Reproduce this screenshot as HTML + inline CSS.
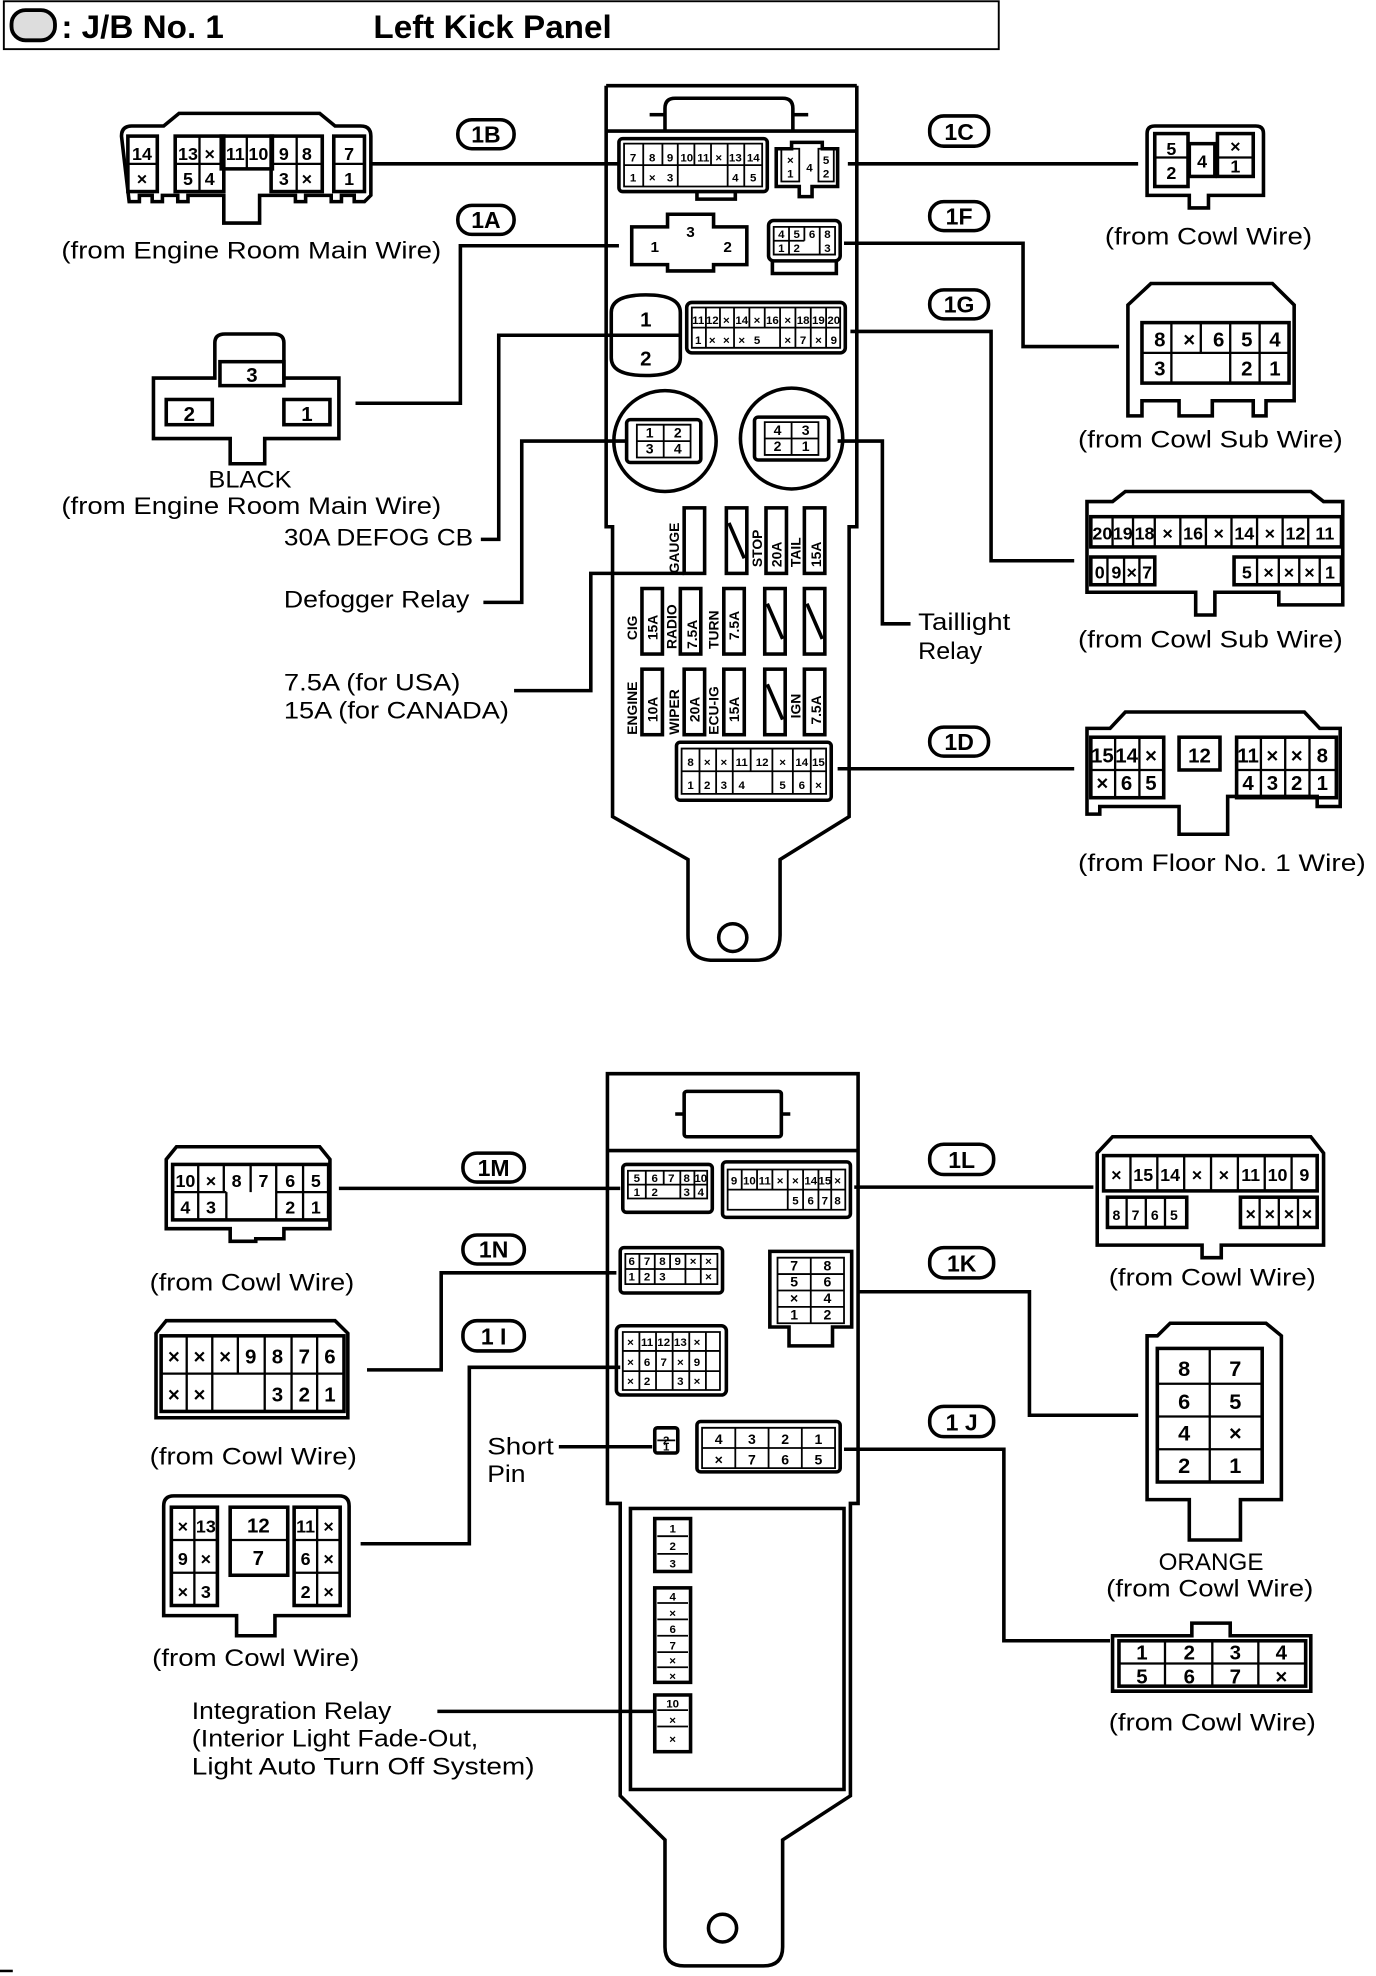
<!DOCTYPE html>
<html><head><meta charset="utf-8"><style>
html,body{margin:0;padding:0;background:#fff;}
svg{display:block;}
text{font-family:"Liberation Sans",sans-serif;fill:#000;}
.l{font-size:19px;}
.c{font-size:13px;font-weight:bold;text-anchor:middle;}
.s{font-size:9px;font-weight:bold;text-anchor:middle;}
.b{font-size:18px;font-weight:bold;text-anchor:middle;}
.f{font-size:11px;font-weight:bold;}
</style></head><body>
<svg width="1376" height="1976" viewBox="0 0 1076 1568" preserveAspectRatio="none" xmlns="http://www.w3.org/2000/svg">
<g fill="none" stroke="#000" stroke-width="2.8">
<!-- title -->
<rect x="3" y="1" width="778" height="38" stroke-width="1.5"/>
<rect x="9" y="8" width="34" height="24" rx="11" stroke-width="3" fill="#ddd"/>

<!-- ========== TOP JB ========== -->
<path d="M474,68 V418 H479 V648 L538,682 V742 Q538,762 558,762 H590 Q610,762 610,742 V682 L664,648 V418 H670 V68"/>
<line x1="474" y1="68" x2="670" y2="68"/>
<line x1="474" y1="104" x2="670" y2="104"/>
<path d="M520,104 V86 Q520,78 528,78 H612 Q620,78 620,86 V104"/>
<line x1="508" y1="91" x2="520" y2="91"/><line x1="620" y1="91" x2="632" y2="91"/>
<circle cx="573" cy="744" r="11"/>
<rect x="484" y="110" width="116" height="42" rx="3"/>
<path d="M545,152 v6 h30 v-6"/>
<path d="M607,118 h12 v-5 h24 v5 h12 v30 h-20 v8 h-10 v-8 h-18 z"/>
<path d="M494,180 h28 v-10 h36 v10 h26 v30 h-26 v5 h-36 v-5 h-28 z"/>
<rect x="601" y="175" width="56" height="32" rx="4"/>
<path d="M604,207 v10 h50 v-10"/>
<path d="M478,248 Q478,234 505,234 Q532,234 532,248 V284 Q532,298 505,298 Q478,298 478,284 Z"/>
<line x1="478" y1="266" x2="532" y2="266"/>
<rect x="537" y="240" width="124" height="40" rx="4"/>
<circle cx="520" cy="350" r="40"/><circle cx="619" cy="348" r="40"/>
<rect x="490" y="333" width="58" height="34" rx="3"/>
<rect x="590" y="331" width="58" height="34" rx="3"/>
<rect x="535" y="403" width="16" height="52"/>
<rect x="568" y="403" width="16" height="52"/><line x1="570" y1="415" x2="582" y2="443"/>
<rect x="599" y="403" width="16" height="52"/>
<rect x="629" y="403" width="16" height="52"/>
<rect x="502" y="467" width="16" height="52"/>
<rect x="532" y="467" width="16" height="52"/>
<rect x="566" y="467" width="16" height="52"/>
<rect x="598" y="467" width="16" height="52"/><line x1="600" y1="479" x2="612" y2="507"/>
<rect x="629" y="467" width="16" height="52"/><line x1="631" y1="479" x2="643" y2="507"/>
<rect x="502" y="531" width="16" height="52"/>
<rect x="535" y="531" width="16" height="52"/>
<rect x="566" y="531" width="16" height="52"/>
<rect x="598" y="531" width="16" height="52"/><line x1="600" y1="543" x2="612" y2="571"/>
<rect x="629" y="531" width="16" height="52"/>
<rect x="529" y="589" width="121" height="46" rx="3"/>

<!-- 1B big -->
<path d="M95,108 Q95,100 103,100 H128 L140,90 H250 L262,100 H282 Q290,100 290,108 V155 l-5,5 h-8 v-5 h-10 v5 h-8 v-5 h-20 v5 h-8 v-5 h-28 v22 h-28 v-22 h-28 v5 h-8 v-5 h-12 v5 h-8 v-5 h-10 v5 h-8 z"/>
<rect x="100" y="108" width="23" height="44"/>
<rect x="137" y="108" width="38" height="44"/>
<rect x="173" y="108" width="40" height="26"/>
<rect x="212" y="108" width="40" height="44"/>
<rect x="261" y="108" width="24" height="44"/>
<!-- 1A big -->
<path d="M168,280 V272 Q168,265 176,265 H214 Q222,265 222,272 V300 H265 V348 H207 V368 H180 V348 H120 V300 H168 Z"/>
<rect x="172" y="287" width="50" height="19"/>
<rect x="130" y="317" width="36" height="20"/>
<rect x="222" y="317" width="36" height="20"/>
<line x1="290" y1="130" x2="484" y2="130"/>
<polyline points="484,195 360,195 360,320 278,320"/>
<polyline points="478,266 390,266 390,428 376,428"/>
<polyline points="490,350 408,350 408,478 378,478"/>
<polyline points="535,455 462,455 462,548 402,548"/>
<line x1="663" y1="130" x2="890" y2="130"/>
<polyline points="660,193 800,193 800,275 875,275"/>
<polyline points="665,263 775,263 775,445 840,445"/>
<polyline points="655,350 690,350 690,495 712,495"/>
<line x1="655" y1="610" x2="840" y2="610"/>

<path d="M897,106 Q897,100 903,100 H982 Q988,100 988,106 V155 H945 V165 H930 V155 H897 Z"/>
<rect x="903" y="106" width="26" height="42"/>
<rect x="930" y="114" width="20" height="26"/>
<rect x="952" y="106" width="28" height="34"/>
<path d="M900,225 H995 L1012,242 V318 H990 V330 H980 V318 H948 V330 H922 V318 H893 V330 H882 V242 Z"/>
<rect x="893" y="256" width="115" height="48"/>
<path d="M870,398 L880,390 H1025 L1035,398 H1050 V480 H1000 V470 H950 V488 H935 V470 H850 V398 Z"/>
<rect x="853" y="410" width="196" height="24"/>
<rect x="853" y="442" width="50" height="22"/>
<rect x="965" y="442" width="84" height="22"/>
<path d="M868,578 L880,565 H1020 L1032,578 H1048 V640 H1030 V632 H960 V662 H922 V640 H860 V646 H850 V578 Z"/>
<rect x="853" y="585" width="57" height="48"/>
<rect x="922" y="585" width="32" height="26"/>
<rect x="967" y="585" width="78" height="48"/>

<!-- ========== BOTTOM JB ========== -->
<path d="M475,852 H671 V1193 H665 V1425 L612,1460 V1545 Q612,1560 597,1560 H535 Q520,1560 520,1545 V1460 L485,1425 V1193 H475 Z"/>
<line x1="475" y1="913" x2="671" y2="913"/>
<rect x="535" y="866" width="76" height="36" rx="2"/>
<line x1="528" y1="884" x2="535" y2="884"/><line x1="611" y1="884" x2="618" y2="884"/>
<rect x="493" y="1197" width="167" height="223"/>
<circle cx="565" cy="1530" r="11"/>
<rect x="487" y="924" width="70" height="38" rx="3"/>
<rect x="565" y="922" width="100" height="44" rx="3"/>
<rect x="485" y="990" width="80" height="36" rx="3"/>
<path d="M602,993 h64 v60 h-15 v15 h-34 v-15 h-15 z"/>
<rect x="482" y="1052" width="86" height="55" rx="4"/>
<rect x="512" y="1133" width="18" height="20" rx="2"/>
<rect x="545" y="1128" width="112" height="40" rx="3"/>
<rect x="512" y="1205" width="28" height="42"/>
<rect x="512" y="1260" width="28" height="75"/>
<rect x="512" y="1345" width="28" height="45"/>

<line x1="265" y1="943" x2="485" y2="943"/>
<polyline points="482,1010 345,1010 345,1087 287,1087"/>
<polyline points="485,1085 367,1085 367,1225 282,1225"/>
<line x1="437" y1="1148" x2="510" y2="1148"/>
<line x1="342" y1="1358" x2="512" y2="1358"/>
<line x1="668" y1="942" x2="855" y2="942"/>
<polyline points="670,1025 805,1025 805,1123 890,1123"/>
<polyline points="660,1150 785,1150 785,1302 868,1302"/>

<path d="M130,920 L138,910 H250 L258,920 V975 H222 V983 H200 V985 H180 V975 H130 Z"/>
<rect x="135" y="924" width="122" height="44"/>
<path d="M122,1058 L130,1048 H262 L272,1058 V1125 H250 V1125 H140 V1125 H122 Z"/>
<rect x="126" y="1060" width="143" height="60"/>
<path d="M128,1195 Q128,1187 136,1187 H265 Q273,1187 273,1195 V1282 H215 V1298 H185 V1282 H128 Z"/>
<rect x="134" y="1196" width="36" height="78"/>
<rect x="180" y="1196" width="45" height="54"/>
<rect x="230" y="1196" width="36" height="78"/>
<path d="M858,915 L870,902 H1025 L1035,915 V988 H955 V998 H940 V988 H858 Z"/>
<rect x="863" y="917" width="167" height="28"/>
<rect x="866" y="950" width="62" height="24"/>
<rect x="970" y="950" width="60" height="24"/>
<path d="M905,1060 L915,1050 H990 L1002,1060 V1190 H970 V1222 H930 V1190 H897 V1060 Z"/>
<rect x="905" y="1070" width="82" height="106"/>
<path d="M870,1298 H932 V1288 H962 V1298 H1025 V1342 H870 Z"/>
<rect x="875" y="1302" width="146" height="36"/>

<g stroke-width="2.8">
<rect x="358" y="95" width="44" height="23" rx="11"/>
<rect x="358" y="163" width="44" height="23" rx="11"/>
<rect x="727" y="92" width="46" height="24" rx="11"/>
<rect x="727" y="160" width="46" height="23" rx="11"/>
<rect x="727" y="230" width="46" height="23" rx="11"/>
<rect x="727" y="577" width="46" height="23" rx="11"/>
<rect x="362" y="915" width="48" height="23" rx="11"/>
<rect x="362" y="980" width="48" height="23" rx="11"/>
<rect x="362" y="1048" width="48" height="24" rx="11"/>
<rect x="727" y="908" width="50" height="24" rx="11"/>
<rect x="727" y="990" width="50" height="24" rx="11"/>
<rect x="727" y="1116" width="50" height="24" rx="11"/>
</g>
</g>

<text x="48" y="30" style="font-size:26px;font-weight:bold">: J/B No. 1</text>
<text x="292" y="30" style="font-size:26px;font-weight:bold">Left Kick Panel</text>

<text class="b" x="380" y="113">1B</text>
<text class="b" x="380" y="181">1A</text>
<text class="b" x="750" y="111">1C</text>
<text class="b" x="750" y="178">1F</text>
<text class="b" x="750" y="248">1G</text>
<text class="b" x="750" y="595">1D</text>
<text class="b" x="386" y="933">1M</text>
<text class="b" x="386" y="998">1N</text>
<text class="b" x="386" y="1067">1 I</text>
<text class="b" x="752" y="927">1L</text>
<text class="b" x="752" y="1009">1K</text>
<text class="b" x="752" y="1135">1 J</text>

<g lengthAdjust="spacingAndGlyphs">
<text class="l" x="48" y="205" textLength="297" lengthAdjust="spacingAndGlyphs">(from Engine Room Main Wire)</text>
<text class="l" x="163" y="387" textLength="65" lengthAdjust="spacingAndGlyphs">BLACK</text>
<text class="l" x="48" y="408" textLength="297" lengthAdjust="spacingAndGlyphs">(from Engine Room Main Wire)</text>
<text class="l" x="222" y="433" textLength="148" lengthAdjust="spacingAndGlyphs">30A DEFOG CB</text>
<text class="l" x="222" y="482" textLength="145" lengthAdjust="spacingAndGlyphs">Defogger Relay</text>
<text class="l" x="222" y="548" textLength="138" lengthAdjust="spacingAndGlyphs">7.5A (for USA)</text>
<text class="l" x="222" y="570" textLength="176" lengthAdjust="spacingAndGlyphs">15A (for CANADA)</text>
<text class="l" x="864" y="194" textLength="162" lengthAdjust="spacingAndGlyphs">(from Cowl Wire)</text>
<text class="l" x="843" y="355" textLength="207" lengthAdjust="spacingAndGlyphs">(from Cowl Sub Wire)</text>
<text class="l" x="843" y="514" textLength="207" lengthAdjust="spacingAndGlyphs">(from Cowl Sub Wire)</text>
<text class="l" x="718" y="500" textLength="72" lengthAdjust="spacingAndGlyphs">Taillight</text>
<text class="l" x="718" y="523" textLength="50" lengthAdjust="spacingAndGlyphs">Relay</text>
<text class="l" x="843" y="691" textLength="225" lengthAdjust="spacingAndGlyphs">(from Floor No. 1 Wire)</text>
<text class="l" x="117" y="1024" textLength="160" lengthAdjust="spacingAndGlyphs">(from Cowl Wire)</text>
<text class="l" x="117" y="1162" textLength="162" lengthAdjust="spacingAndGlyphs">(from Cowl Wire)</text>
<text class="l" x="119" y="1322" textLength="162" lengthAdjust="spacingAndGlyphs">(from Cowl Wire)</text>
<text class="l" x="381" y="1154" textLength="52" lengthAdjust="spacingAndGlyphs">Short</text>
<text class="l" x="381" y="1176" textLength="30" lengthAdjust="spacingAndGlyphs">Pin</text>
<text class="l" x="150" y="1364" textLength="156" lengthAdjust="spacingAndGlyphs">Integration Relay</text>
<text class="l" x="150" y="1386" textLength="224" lengthAdjust="spacingAndGlyphs">(Interior Light Fade-Out,</text>
<text class="l" x="150" y="1408" textLength="268" lengthAdjust="spacingAndGlyphs">Light Auto Turn Off System)</text>
<text class="l" x="867" y="1020" textLength="162" lengthAdjust="spacingAndGlyphs">(from Cowl Wire)</text>
<text class="l" x="906" y="1246" textLength="82" lengthAdjust="spacingAndGlyphs">ORANGE</text>
<text class="l" x="865" y="1267" textLength="162" lengthAdjust="spacingAndGlyphs">(from Cowl Wire)</text>
<text class="l" x="867" y="1373" textLength="162" lengthAdjust="spacingAndGlyphs">(from Cowl Wire)</text>
</g>

<g class="c" style="font-size:14px">
<text x="111" y="127">14</text><text x="111" y="147">×</text>
<text x="147" y="127">13</text><text x="164" y="127">×</text><text x="147" y="147">5</text><text x="164" y="147">4</text>
<text x="184" y="127">11</text><text x="202" y="127">10</text>
<text x="222" y="127">9</text><text x="240" y="127">8</text><text x="222" y="147">3</text><text x="240" y="147">×</text>
<text x="273" y="127">7</text><text x="273" y="147">1</text>
<text x="197" y="303" style="font-size:16px">3</text>
<text x="148" y="334" style="font-size:16px">2</text>
<text x="240" y="334" style="font-size:16px">1</text>
<text x="916" y="123">5</text><text x="916" y="142">2</text><text x="940" y="133">4</text><text x="966" y="121">×</text><text x="966" y="137">1</text>
<text x="907" y="275" style="font-size:16px">8</text><text x="930" y="275" style="font-size:16px">×</text><text x="953" y="275" style="font-size:16px">6</text><text x="975" y="275" style="font-size:16px">5</text><text x="997" y="275" style="font-size:16px">4</text>
<text x="907" y="298" style="font-size:16px">3</text><text x="975" y="298" style="font-size:16px">2</text><text x="997" y="298" style="font-size:16px">1</text>
<text x="862" y="428">20</text><text x="878" y="428">19</text><text x="895" y="428">18</text><text x="913" y="428">×</text><text x="933" y="428">16</text><text x="953" y="428">×</text><text x="973" y="428">14</text><text x="993" y="428">×</text><text x="1013" y="428">12</text><text x="1036" y="428">11</text>
<text x="860" y="459">0</text><text x="873" y="459">9</text><text x="885" y="459">×</text><text x="897" y="459">7</text>
<text x="975" y="459">5</text><text x="992" y="459">×</text><text x="1008" y="459">×</text><text x="1024" y="459">×</text><text x="1040" y="459">1</text>
<text x="862" y="605" style="font-size:16px">15</text><text x="881" y="605" style="font-size:16px">14</text><text x="900" y="605" style="font-size:16px">×</text>
<text x="938" y="605" style="font-size:16px">12</text>
<text x="976" y="605" style="font-size:16px">11</text><text x="995" y="605" style="font-size:16px">×</text><text x="1014" y="605" style="font-size:16px">×</text><text x="1034" y="605" style="font-size:16px">8</text>
<text x="862" y="627" style="font-size:16px">×</text><text x="881" y="627" style="font-size:16px">6</text><text x="900" y="627" style="font-size:16px">5</text>
<text x="976" y="627" style="font-size:16px">4</text><text x="995" y="627" style="font-size:16px">3</text><text x="1014" y="627" style="font-size:16px">2</text><text x="1034" y="627" style="font-size:16px">1</text>
<text x="145" y="942">10</text><text x="165" y="942">×</text><text x="185" y="942">8</text><text x="206" y="942">7</text><text x="227" y="942">6</text><text x="247" y="942">5</text>
<text x="145" y="963">4</text><text x="165" y="963">3</text><text x="227" y="963">2</text><text x="247" y="963">1</text>
<text x="136" y="1082" style="font-size:16px">×</text><text x="156" y="1082" style="font-size:16px">×</text><text x="176" y="1082" style="font-size:16px">×</text><text x="196" y="1082" style="font-size:16px">9</text><text x="217" y="1082" style="font-size:16px">8</text><text x="238" y="1082" style="font-size:16px">7</text><text x="258" y="1082" style="font-size:16px">6</text>
<text x="136" y="1112" style="font-size:16px">×</text><text x="156" y="1112" style="font-size:16px">×</text><text x="217" y="1112" style="font-size:16px">3</text><text x="238" y="1112" style="font-size:16px">2</text><text x="258" y="1112" style="font-size:16px">1</text>
<text x="143" y="1216">×</text><text x="161" y="1216">13</text><text x="143" y="1242">9</text><text x="161" y="1242">×</text><text x="143" y="1268">×</text><text x="161" y="1268">3</text>
<text x="202" y="1216" style="font-size:16px">12</text><text x="202" y="1242" style="font-size:16px">7</text>
<text x="239" y="1216">11</text><text x="257" y="1216">×</text><text x="239" y="1242">6</text><text x="257" y="1242">×</text><text x="239" y="1268">2</text><text x="257" y="1268">×</text>
<text x="873" y="937">×</text><text x="894" y="937">15</text><text x="915" y="937">14</text><text x="936" y="937">×</text><text x="957" y="937">×</text><text x="978" y="937">11</text><text x="999" y="937">10</text><text x="1020" y="937">9</text>
<text x="873" y="968" style="font-size:11px">8</text><text x="888" y="968" style="font-size:11px">7</text><text x="903" y="968" style="font-size:11px">6</text><text x="918" y="968" style="font-size:11px">5</text>
<text x="978" y="968">×</text><text x="993" y="968">×</text><text x="1008" y="968">×</text><text x="1022" y="968">×</text>
<text x="926" y="1092" style="font-size:17px">8</text><text x="966" y="1092" style="font-size:17px">7</text>
<text x="926" y="1118" style="font-size:17px">6</text><text x="966" y="1118" style="font-size:17px">5</text>
<text x="926" y="1143" style="font-size:17px">4</text><text x="966" y="1143" style="font-size:17px">×</text>
<text x="926" y="1169" style="font-size:17px">2</text><text x="966" y="1169" style="font-size:17px">1</text>
<text x="893" y="1317" style="font-size:16px">1</text><text x="930" y="1317" style="font-size:16px">2</text><text x="966" y="1317" style="font-size:16px">3</text><text x="1002" y="1317" style="font-size:16px">4</text>
<text x="893" y="1336" style="font-size:16px">5</text><text x="930" y="1336" style="font-size:16px">6</text><text x="966" y="1336" style="font-size:16px">7</text><text x="1002" y="1336" style="font-size:16px">×</text>
</g>
<g stroke="#000" stroke-width="1.8" fill="none">
<path d="M100,130 h23 M137,130 h38 M156,108 v44 M193,108 v26 M212,130 h40 M232,108 v44 M261,130 h24"/>
<path d="M903,125 h26 M952,125 h28"/>
<path d="M893,280 h115 M916,256 v24 M939,256 v24 M962,256 v48 M985,256 v48 M916,280 v24"/>
<path d="M870,410 v24 M886,410 v24 M903,410 v24 M923,410 v24 M943,410 v24 M963,410 v24 M983,410 v24 M1003,410 v24 M1023,410 v24 M866,442 v22 M879,442 v22 M891,442 v22 M983,442 v22 M1000,442 v22 M1016,442 v22 M1032,442 v22"/>
<path d="M853,611 h57 M872,585 v48 M891,585 v48 M967,611 h78 M986,585 v48 M1005,585 v48 M1024,585 v48"/>
<path d="M135,946 h42 M216,946 h41 M155,924 v44 M175,924 v22 M196,924 v22 M216,924 v44 M237,924 v44 M177,946 v22"/>
<path d="M126,1090 h143 M146,1060 v60 M166,1060 v60 M186,1060 v30 M207,1060 v60 M228,1060 v60 M248,1060 v60"/>
<path d="M134,1222 h36 M134,1248 h36 M152,1196 v78 M180,1222 h45 M230,1222 h36 M230,1248 h36 M248,1196 v78"/>
<path d="M884,917 v28 M905,917 v28 M926,917 v28 M947,917 v28 M968,917 v28 M989,917 v28 M1010,917 v28 M881,950 v24 M896,950 v24 M911,950 v24 M985,950 v24 M1000,950 v24 M1015,950 v24"/>
<path d="M905,1098 h82 M905,1124 h82 M905,1150 h82 M946,1070 v106"/>
<path d="M875,1320 h146 M911,1302 v36 M948,1302 v36 M984,1302 v36"/>
</g>

<g stroke="#000" stroke-width="1.4" fill="none">
<path d="M488,114 h108 v34 h-108 z M488,131 h108 M503,114 v34 M518,114 v17 M530,114 v34 M543,114 v17 M556,114 v17 M569,114 v34 M582,114 v34"/>
<path d="M611,118 h14 v26 h-14 z M640,118 h12 v26 h-12 z"/>
<path d="M605,180 h48 v22 h-48 z M605,191 h24 M617,180 v22 M629,180 v11 M641,180 v22"/>
<path d="M541,244 h116 v32 h-116 z M541,260 h116 M552,244 v32 M563,244 v16 M574,244 v32 M586,244 v16 M598,244 v16 M610,244 v32 M622,244 v32 M634,244 v32 M646,244 v32"/>
<path d="M498,337 h42 v26 h-42 z M498,350 h42 M519,337 v26 M598,335 h42 v26 h-42 z M598,348 h42 M619,335 v26"/>
<path d="M533,594 h113 v36 h-113 z M533,612 h113 M547,594 v36 M560,594 v36 M573,594 v36 M587,594 v18 M604,594 v36 M620,594 v36 M634,594 v36"/>
<path d="M491,929 h62 v22 h-62 z M491,940 h62 M505,929 v22 M519,929 v11 M532,929 v22 M543,929 v22"/>
<path d="M569,928 h92 v32 h-92 z M569,944 h92 M580,928 v16 M592,928 v16 M604,928 v16 M616,928 v32 M628,928 v32 M640,928 v32 M650,928 v32"/>
<path d="M489,995 h72 v24 h-72 z M489,1007 h72 M500,995 v24 M512,995 v24 M524,995 v12 M536,995 v24 M548,995 v24"/>
<path d="M608,998 h52 v52 h-52 z M608,1011 h52 M608,1024 h52 M608,1037 h52 M634,998 v52"/>
<path d="M487,1057 h76 v46 h-76 z M487,1072 h76 M487,1088 h76 M500,1057 v46 M513,1057 v46 M526,1057 v46 M539,1057 v46 M552,1057 v46"/>
<path d="M549,1133 h104 v32 h-104 z M549,1149 h104 M575,1133 v32 M601,1133 v32 M627,1133 v32 M514,1143 h14"/>
<path d="M514,1219 h24 M514,1233 h24 M514,1272 h24 M514,1285 h24 M514,1298 h24 M514,1311 h24 M514,1323 h24 M514,1357 h24 M514,1370 h24"/>
</g>
<g class="s">
<text x="495" y="128">7</text><text x="510" y="128">8</text><text x="524" y="128">9</text><text x="537" y="128">10</text><text x="550" y="128">11</text><text x="562" y="128">×</text><text x="575" y="128">13</text><text x="589" y="128">14</text>
<text x="495" y="144">1</text><text x="510" y="144">×</text><text x="524" y="144">3</text><text x="575" y="144">4</text><text x="589" y="144">5</text>
<text x="618" y="130">×</text><text x="618" y="141">1</text><text x="633" y="136">4</text><text x="646" y="130">5</text><text x="646" y="141">2</text>
<text x="512" y="200" style="font-size:12px">1</text><text x="540" y="188" style="font-size:12px">3</text><text x="569" y="200" style="font-size:12px">2</text>
<text x="611" y="189">4</text><text x="623" y="189">5</text><text x="635" y="189">6</text><text x="647" y="189">8</text><text x="611" y="200">1</text><text x="623" y="200">2</text><text x="647" y="200">3</text>
<text x="505" y="259" style="font-size:16px">1</text><text x="505" y="290" style="font-size:16px">2</text>
<text x="546" y="257">11</text><text x="557" y="257">12</text><text x="568" y="257">×</text><text x="580" y="257">14</text><text x="592" y="257">×</text><text x="604" y="257">16</text><text x="616" y="257">×</text><text x="628" y="257">18</text><text x="640" y="257">19</text><text x="652" y="257">20</text>
<text x="546" y="273">1</text><text x="557" y="273">×</text><text x="568" y="273">×</text><text x="580" y="273">×</text><text x="592" y="273">5</text><text x="616" y="273">×</text><text x="628" y="273">7</text><text x="640" y="273">×</text><text x="652" y="273">9</text>
<text x="508" y="347" style="font-size:11px">1</text><text x="530" y="347" style="font-size:11px">2</text><text x="508" y="360" style="font-size:11px">3</text><text x="530" y="360" style="font-size:11px">4</text>
<text x="608" y="345" style="font-size:11px">4</text><text x="630" y="345" style="font-size:11px">3</text><text x="608" y="358" style="font-size:11px">2</text><text x="630" y="358" style="font-size:11px">1</text>
<text x="540" y="608">8</text><text x="553" y="608">×</text><text x="566" y="608">×</text><text x="580" y="608">11</text><text x="596" y="608">12</text><text x="612" y="608">×</text><text x="627" y="608">14</text><text x="640" y="608">15</text>
<text x="540" y="626">1</text><text x="553" y="626">2</text><text x="566" y="626">3</text><text x="580" y="626">4</text><text x="612" y="626">5</text><text x="627" y="626">6</text><text x="640" y="626">×</text>
<text x="498" y="938">5</text><text x="512" y="938">6</text><text x="525" y="938">7</text><text x="537" y="938">8</text><text x="548" y="938">10</text><text x="498" y="949">1</text><text x="512" y="949">2</text><text x="537" y="949">3</text><text x="548" y="949">4</text>
<text x="574" y="940">9</text><text x="586" y="940">10</text><text x="598" y="940">11</text><text x="610" y="940">×</text><text x="622" y="940">×</text><text x="634" y="940">14</text><text x="645" y="940">15</text><text x="655" y="940">×</text>
<text x="622" y="956">5</text><text x="634" y="956">6</text><text x="645" y="956">7</text><text x="655" y="956">8</text>
<text x="494" y="1004">6</text><text x="506" y="1004">7</text><text x="518" y="1004">8</text><text x="530" y="1004">9</text><text x="542" y="1004">×</text><text x="554" y="1004">×</text>
<text x="494" y="1016">1</text><text x="506" y="1016">2</text><text x="518" y="1016">3</text><text x="554" y="1016">×</text>
<text x="621" y="1008" style="font-size:11px">7</text><text x="647" y="1008" style="font-size:11px">8</text><text x="621" y="1021" style="font-size:11px">5</text><text x="647" y="1021" style="font-size:11px">6</text><text x="621" y="1034" style="font-size:11px">×</text><text x="647" y="1034" style="font-size:11px">4</text><text x="621" y="1047" style="font-size:11px">1</text><text x="647" y="1047" style="font-size:11px">2</text>
<text x="493" y="1068">×</text><text x="506" y="1068">11</text><text x="519" y="1068">12</text><text x="532" y="1068">13</text><text x="545" y="1068">×</text>
<text x="493" y="1084">×</text><text x="506" y="1084">6</text><text x="519" y="1084">7</text><text x="532" y="1084">×</text><text x="545" y="1084">9</text>
<text x="493" y="1099">×</text><text x="506" y="1099">2</text><text x="532" y="1099">3</text><text x="545" y="1099">×</text>
<text x="521" y="1146">2</text><text x="521" y="1151">1</text>
<text x="562" y="1146" style="font-size:11px">4</text><text x="588" y="1146" style="font-size:11px">3</text><text x="614" y="1146" style="font-size:11px">2</text><text x="640" y="1146" style="font-size:11px">1</text>
<text x="562" y="1162" style="font-size:11px">×</text><text x="588" y="1162" style="font-size:11px">7</text><text x="614" y="1162" style="font-size:11px">6</text><text x="640" y="1162" style="font-size:11px">5</text>
<text x="526" y="1216">1</text><text x="526" y="1230">2</text><text x="526" y="1244">3</text>
<text x="526" y="1270">4</text><text x="526" y="1283">×</text><text x="526" y="1296">6</text><text x="526" y="1309">7</text><text x="526" y="1321">×</text><text x="526" y="1333">×</text>
<text x="526" y="1355">10</text><text x="526" y="1368">×</text><text x="526" y="1383">×</text>
</g>
<g class="f">
<text transform="translate(531,455) rotate(-90)">GAUGE</text>
<text transform="translate(596,450) rotate(-90)">STOP</text>
<text transform="translate(611,450) rotate(-90)">20A</text>
<text transform="translate(626,450) rotate(-90)">TAIL</text>
<text transform="translate(642,450) rotate(-90)">15A</text>
<text transform="translate(498,508) rotate(-90)">CIG</text>
<text transform="translate(514,508) rotate(-90)">15A</text>
<text transform="translate(529,515) rotate(-90)">RADIO</text>
<text transform="translate(545,515) rotate(-90)">7.5A</text>
<text transform="translate(562,515) rotate(-90)">TURN</text>
<text transform="translate(578,508) rotate(-90)">7.5A</text>
<text transform="translate(498,583) rotate(-90)">ENGINE</text>
<text transform="translate(514,573) rotate(-90)">10A</text>
<text transform="translate(531,583) rotate(-90)">WIPER</text>
<text transform="translate(547,573) rotate(-90)">20A</text>
<text transform="translate(562,583) rotate(-90)">ECU-IG</text>
<text transform="translate(578,573) rotate(-90)">15A</text>
<text transform="translate(626,570) rotate(-90)">IGN</text>
<text transform="translate(642,575) rotate(-90)">7.5A</text>
</g>
<rect x="0" y="1563" width="10" height="2" fill="#000"/>
</svg>
</body></html>
